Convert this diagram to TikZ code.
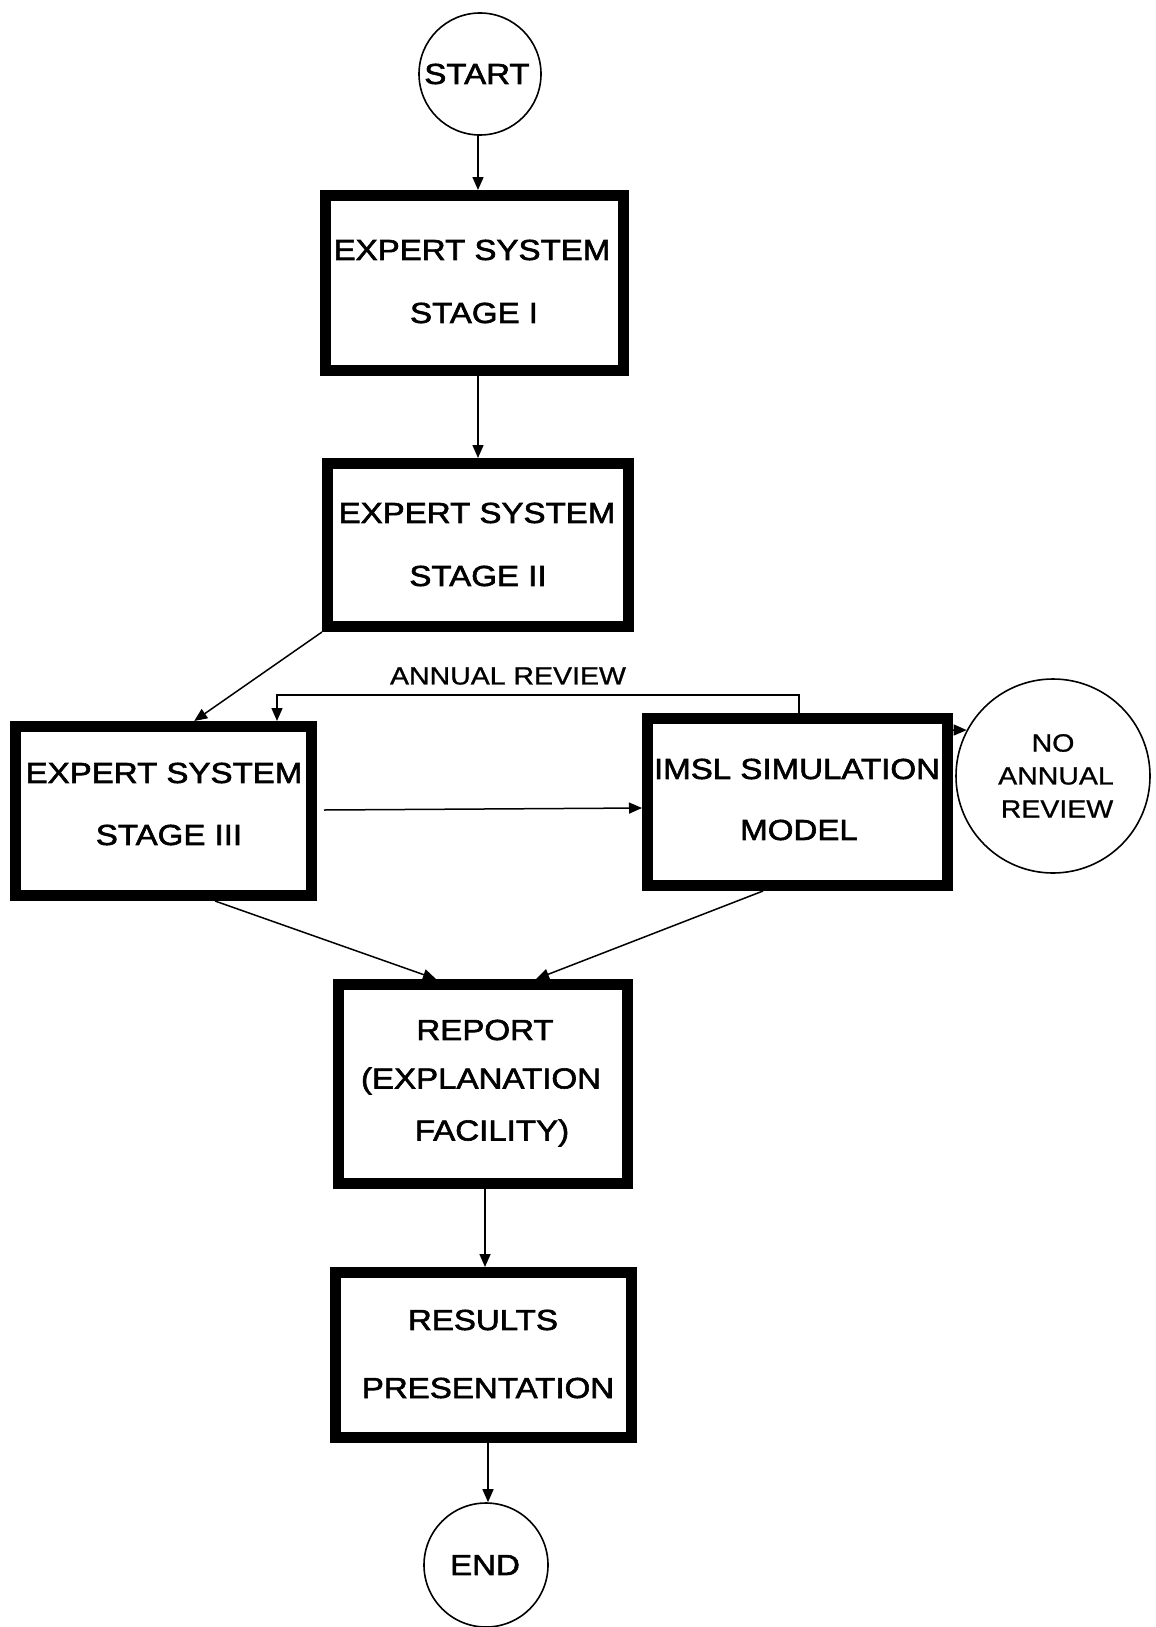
\documentclass[tikz,border=0pt]{standalone}
\usepackage{fontspec}
\setmainfont[FakeStretch=1.14,FakeBold=2]{Liberation Sans}
\newfontfamily\smallfont[FakeStretch=1.14,FakeBold=1]{Liberation Sans}
\usetikzlibrary{arrows.meta,calc}
\begin{document}
\begin{tikzpicture}[x=1pt,y=-1pt,
  boxnode/.style={draw,line width=11pt,fill=white,inner sep=0pt,align=center},
  circnode/.style={draw,circle,line width=1.6pt,fill=white,inner sep=0pt},
  conn/.style={line width=1.5pt,-{Triangle[length=13pt,width=11pt]}},
  big/.style={font=\fontsize{29}{34}\selectfont},
  small/.style={font=\smallfont\fontsize{25}{29}\selectfont}]
\useasboundingbox (0,0) rectangle (1156,1627);
\fill[white] (0,0) rectangle (1156,1627);
% circles
\node[circnode,minimum size=122pt] (start) at (480,74) {};
\node[big] at (477,74) {START};
\node[circnode,minimum size=194pt] (no) at (1053,776) {};
\node[circnode,minimum size=124pt] (end) at (486,1565) {};
\node[big] at (485,1565) {END};
% boxes
\node[boxnode,minimum width=298pt,minimum height=175pt] (b1) at (474.5,283) {};
\node[boxnode,minimum width=301pt,minimum height=163pt] (b2) at (478,545) {};
\node[boxnode,minimum width=296pt,minimum height=169pt] (b3) at (163.5,811) {};
\node[boxnode,minimum width=300pt,minimum height=167pt] (imsl) at (797.5,802) {};
\node[boxnode,minimum width=289pt,minimum height=199pt] (rep) at (483,1084) {};
\node[boxnode,minimum width=296pt,minimum height=165pt] (res) at (483.5,1355) {};
% texts
\node[big] at (472,250) {EXPERT SYSTEM};
\node[big] at (474,313) {STAGE I};
\node[big] at (477,513) {EXPERT SYSTEM};
\node[big] at (478,576) {STAGE II};
\node[big] at (164,773) {EXPERT SYSTEM};
\node[big] at (169,835) {STAGE III};
\node[big] at (797,769) {IMSL SIMULATION};
\node[big] at (799,830) {MODEL};
\node[small] at (1053,743) {NO};
\node[small] at (1056,776) {ANNUAL};
\node[small] at (1057,809) {REVIEW};
\node[small] at (508,676) {ANNUAL REVIEW};
\node[big] at (485,1030) {REPORT};
\node[big] at (481,1081) {(EXPLANATION};
\node[big] at (492,1133) {FACILITY)};
\node[big] at (483,1320) {RESULTS};
\node[big] at (488,1388) {PRESENTATION};
% connectors
\coordinate (s1) at (478,135);
\coordinate (x1) at (478,0);
\coordinate (x3a) at (215,0);
\coordinate (x3b) at (436,0);
\coordinate (xia) at (763,0);
\coordinate (xib) at (536,0);
\coordinate (xr) at (485,0);
\coordinate (xs) at (488,0);
\coordinate (xim) at (799,0);
\coordinate (x3r) at (277,0);
\coordinate (ar1) at (799,695);
\coordinate (ar2) at (277,695);
\coordinate (h1) at (324,810);
\coordinate (h2) at (642,808);
\coordinate (lp) at (953,730);
\draw[conn] (s1) -- (x1 |- b1.north);
\draw[conn] (x1 |- b1.south) -- (x1 |- b2.north);
\draw[conn] (b2.south west) -- ($(b3.north west)!0.6!(b3.north east)$);
\draw[conn] (xim |- imsl.north) -- (ar1) -- (ar2) -- (x3r |- b3.north);
\draw[conn] (h1) -- (h2);
\draw[conn] (lp) -- (no.152);
\draw[conn] (x3a |- b3.south) -- (x3b |- rep.north);
\draw[conn] (xia |- imsl.south) -- (xib |- rep.north);
\draw[conn] (xr |- rep.south) -- (xr |- res.north);
\draw[conn] (xs |- res.south) -- (xs |- end.north);
\end{tikzpicture}
\end{document}
